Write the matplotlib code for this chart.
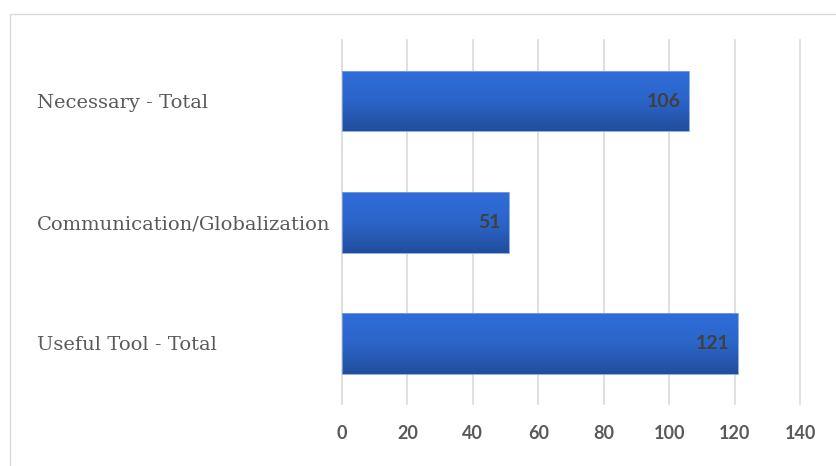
import numpy as np
import matplotlib.pyplot as plt
from matplotlib.patches import Rectangle
from matplotlib.colors import LinearSegmentedColormap

categories = ['Useful Tool - Total', 'Communication/Globalization', 'Necessary - Total']
values = [121, 51, 106]
xticks = [0, 20, 40, 60, 80, 100, 120, 140]

W, H = 836, 466
fig = plt.figure(figsize=(W / 100, H / 100), dpi=100)
ax = fig.add_axes([342 / W, 1 - 404 / H, (800 - 342) / W, (404 - 40.5) / H])

# chart border
fig.patches.append(Rectangle((10 / W, -0.1), 1.2, 1 - 14 / H + 0.1, transform=fig.transFigure,
                             fill=False, edgecolor='#D9D9D9', lw=1))

bars = ax.barh(range(len(categories)), values, height=0.5, color='none',
               edgecolor='#7FA0E0', lw=0.6, zorder=3)

# vertical gradient fill, light on top, dark at bottom
grad = np.linspace(1, 0, 100).reshape(-1, 1)
cmap = LinearSegmentedColormap.from_list('g', ['#2F6DDA', '#2C65C9', '#214E9C'])
for b in bars:
    x0, y0, w, h = b.get_x(), b.get_y(), b.get_width(), b.get_height()
    im = ax.imshow(grad, cmap=cmap, aspect='auto', extent=(x0, x0 + w, y0, y0 + h),
                   origin='lower', zorder=2)
    im.set_clip_path(b)

for b, v in zip(bars, values):
    ax.annotate(str(v), (b.get_width(), b.get_y() + b.get_height() / 2),
                xytext=(-6, 0), textcoords='offset points', ha='right', va='center',
                fontsize=14, fontweight='bold', color='#404040', family='Lato', zorder=4)

ax.set_xlim(0, 140)
ax.set_ylim(-0.5, 2.5)
ax.set_xticks(xticks)
ax.set_xticklabels([str(t) for t in xticks], fontsize=13, fontweight='bold',
                   color='#595959', family='Lato')
ax.set_yticks(range(len(categories)))
ax.set_yticklabels(categories, fontsize=14, color='#595959', family='DejaVu Serif', ha='left')
ax.tick_params(axis='y', length=0, pad=(342 - 37) * 0.72)
ax.tick_params(axis='x', length=0, pad=15)
ax.grid(axis='x', color='#D9D9D9', lw=1.2, zorder=0)
for gl in ax.get_xgridlines():
    gl.set_clip_on(False)
ax.set_axisbelow(True)
for s in ax.spines.values():
    s.set_visible(False)

fig.savefig('out.png', dpi=100)
